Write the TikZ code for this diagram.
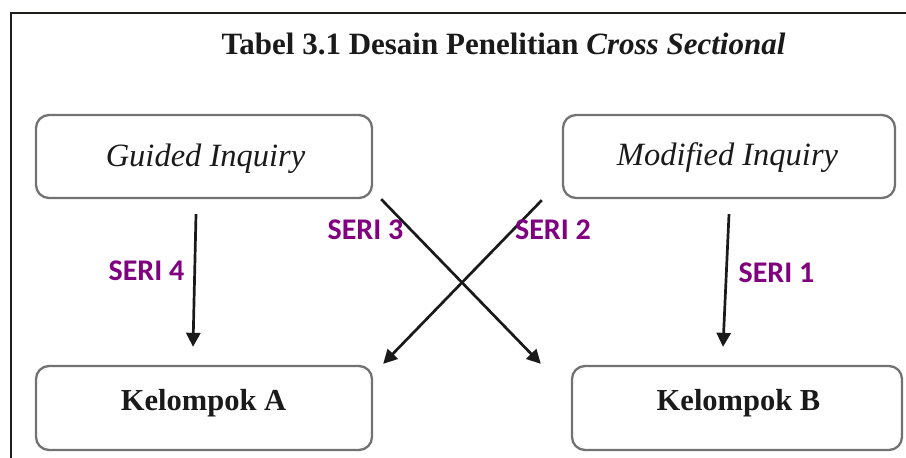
\documentclass[tikz,border=0pt]{standalone}
\usepackage{fontspec}
\setmainfont{Liberation Serif}
\newfontfamily\serifont{Carlito}
\usetikzlibrary{arrows.meta}
\definecolor{frameink}{HTML}{1E1E1A}
\definecolor{boxline}{HTML}{727272}
\definecolor{serilab}{HTML}{800080}
\definecolor{ink}{HTML}{1A1A1A}
\begin{document}
\begin{tikzpicture}[x=1pt,y=-1pt,
  box/.style={draw=boxline, line width=2.3pt, rounded corners=13pt, inner sep=0pt},
  boxtext/.style={anchor=base, inner sep=0pt, text=ink},
  arr/.style={draw=ink, line width=2.7pt, -{Triangle[length=14pt,width=14pt]}},
  serilbl/.style={anchor=base, inner sep=0pt, text=serilab,
    font=\serifont\bfseries\fontsize{30}{32}\selectfont}]
\useasboundingbox (0,0) rectangle (906,458);

% open frame: left and top edges only
\draw[frameink, line width=2.2pt] (11,458) -- (11,12.7) -- (906,12.7);

% title
\node[boxtext, font=\bfseries\fontsize{31}{33}\selectfont] (title) at (503.5,54)
  {Tabel 3.1 Desain Penelitian \textit{Cross Sectional}};

% boxes
\node[box, minimum width=336pt, minimum height=83pt] (gi) at (204,156.5) {};
\node[box, minimum width=332pt, minimum height=83pt] (mi) at (729,156.5) {};
\node[box, minimum width=336pt, minimum height=84pt] (ka) at (204,408) {};
\node[box, minimum width=330pt, minimum height=84pt] (kb) at (737,408) {};

\node[boxtext, font=\itshape\fontsize{32.5}{35}\selectfont] (gitext) at (205.5,166) {Guided Inquiry};
\node[boxtext, font=\itshape\fontsize{32.5}{35}\selectfont] (mitext) at (727.5,165) {Modified Inquiry};
\node[boxtext, font=\bfseries\fontsize{30.5}{32}\selectfont] (katext) at (203.5,410) {Kelompok A};
\node[boxtext, font=\bfseries\fontsize{30.5}{32}\selectfont] (kbtext) at (738.5,410) {Kelompok B};

% connector end points
\path (gi.south) ++(-8,15) coordinate (s4a);
\path (ka.north) ++(-11,-18) coordinate (s4b);
\path (mi.south) ++(0,15) coordinate (s1a);
\path (kb.north) ++(-14,-18) coordinate (s1b);
\path (gi.south east) ++(8,0) coordinate (s3a);
\path (kb.north west) ++(-30,-1) coordinate (s3b);
\path (mi.south west) ++(-20,1) coordinate (s2a);
\path (ka.north east) ++(10,-1) coordinate (s2b);

% arrows
\draw[arr] (s4a) -- (s4b);
\draw[arr] (s1a) -- (s1b);
\draw[arr] (s3a) -- (s3b);
\draw[arr] (s2a) -- (s2b);

% series labels
\node[serilbl] (seri4) at (146.5,280) {SERI 4};
\node[serilbl] (seri3) at (365.5,239) {SERI 3};
\node[serilbl] (seri2) at (553,239) {SERI 2};
\node[serilbl] (seri1) at (776.5,282) {SERI 1};
\end{tikzpicture}
\end{document}
